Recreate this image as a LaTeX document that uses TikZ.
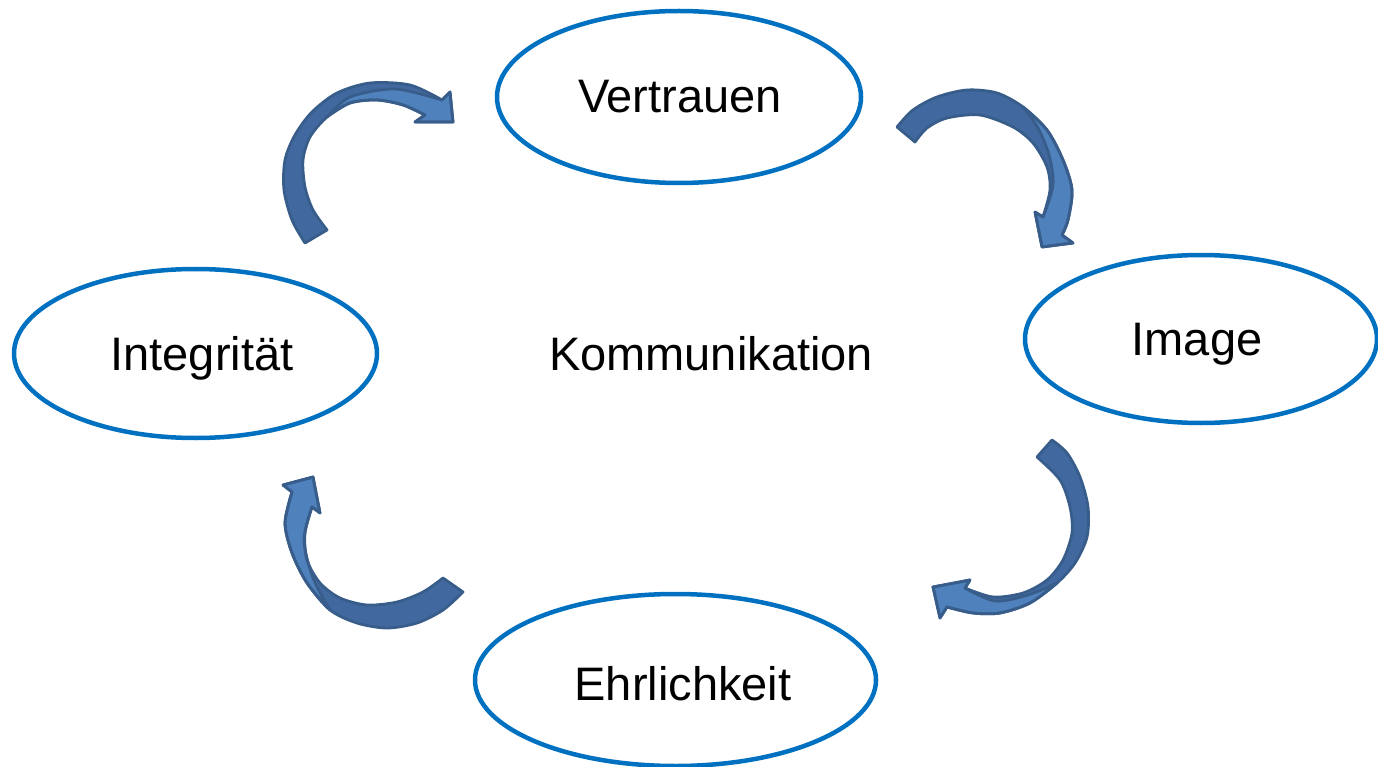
\documentclass[tikz,border=0pt]{standalone}
\usepackage{fontspec}
\setmainfont{Liberation Sans}
\usetikzlibrary{shapes.geometric}
\definecolor{ellblue}{HTML}{0070C0}
\definecolor{arrlight}{HTML}{4F81BD}
\definecolor{arrdark}{HTML}{41699F}
\definecolor{arredge}{HTML}{385D8A}
\tikzset{
  ell/.style={ellipse, draw=ellblue, line width=4.5pt, inner sep=0pt},
  lbl/.style={anchor=base, inner sep=0pt, font=\fontsize{47}{56}\selectfont},
  arrbody/.style={fill=arrdark, draw=none},
  arrface/.style={fill=arrlight, draw=arredge, line width=2.8pt, line join=round},
  arrline/.style={draw=arredge, line width=2.8pt, line join=round}
}
\begin{document}
\begin{tikzpicture}[x=1pt,y=-1pt]
\useasboundingbox (0,0) rectangle (1378,767);
% ellipses
\node[ell, minimum width=364pt, minimum height=172pt] (vE) at (679,97) {};
\node[ell, minimum width=352pt, minimum height=168pt] (iE) at (1201,339) {};
\node[ell, minimum width=401pt, minimum height=172pt] (eE) at (675.5,680) {};
\node[ell, minimum width=363pt, minimum height=169pt] (gE) at (195.5,353.5) {};
% labels
\node[lbl] (vT) at (680,113) {Vertrauen};
\node[lbl] (iT) at (1197,355) {Image};
\node[lbl] (eT) at (683,700) {Ehrlichkeit};
\node[lbl] (gT) at (202,370) {Integrität};
\node[lbl] (kT) at (711,370) {Kommunikation};
% arrow 1: Integritaet -> Vertrauen
\path[arrbody] (327,230) -- (305,243) -- plot[smooth] coordinates {(305,243) (292,220) (284,190) (285,160) (295,135) (312,112) (337,93) (370,83) (410,85) (442,100)} -- (450,92) -- (453,122) -- (415,122) -- (425,115) -- plot[smooth] coordinates {(425,115) (403,105) (377,100) (350,103) (327,117) (310,137) (303,160) (305,187) (313,210) (327,230)} -- cycle;
\path[arrface] (425,115) -- plot[smooth] coordinates {(425,115) (403,105) (377,100) (350,103) (327,117)} -- plot[smooth] coordinates {(327,117) (350,97) (395,89) (442,100)} -- (450,92) -- (453,122) -- (415,122) -- cycle;
\path[arrline] (327,230) -- (305,243) -- plot[smooth] coordinates {(305,243) (292,220) (284,190) (285,160) (295,135) (312,112) (337,93) (370,83) (410,85) (442,100)} -- (450,92) -- (453,122) -- (415,122) -- (425,115) -- plot[smooth] coordinates {(425,115) (403,105) (377,100) (350,103) (327,117) (310,137) (303,160) (305,187) (313,210) (327,230)} -- cycle;
% arrow 2: Vertrauen -> Image
\path[arrbody] (915,142) -- (897,127) -- plot[smooth] coordinates {(897,127) (913,110) (937,97) (967,90) (997,93) (1023,107) (1047,130) (1063,160) (1072,190) (1068,220) (1062,235)} -- (1073,243) -- (1042,247) -- (1035,212) -- (1043,217) -- plot[smooth] coordinates {(1043,217) (1050,190) (1047,167) (1033,143) (1013,127) (980,115) (947,118) (927,128) (915,142)} -- cycle;
\path[arrface] (1023,107) -- plot[smooth] coordinates {(1023,107) (1047,130) (1063,160) (1072,190) (1068,220) (1062,235)} -- (1073,243) -- (1042,247) -- (1035,212) -- (1043,217) -- plot[smooth] coordinates {(1043,217) (1053,185) (1049,155) (1038,128) (1023,107)} -- cycle;
\path[arrline] (915,142) -- (897,127) -- plot[smooth] coordinates {(897,127) (913,110) (937,97) (967,90) (997,93) (1023,107) (1047,130) (1063,160) (1072,190) (1068,220) (1062,235)} -- (1073,243) -- (1042,247) -- (1035,212) -- (1043,217) -- plot[smooth] coordinates {(1043,217) (1050,190) (1047,167) (1033,143) (1013,127) (980,115) (947,118) (927,128) (915,142)} -- cycle;
% arrow 3: Image -> Ehrlichkeit
\path[arrbody] (1037,457) -- (1052,440) -- plot[smooth] coordinates {(1052,440) (1067,453) (1080,477) (1088,507) (1087,537) (1075,563) (1057,583) (1030,603) (1000,613) (973,613) (947,607)} -- (940,618) -- (933,587) -- (970,580) -- (965,588) -- plot[smooth] coordinates {(965,588) (993,597) (1023,593) (1047,580) (1063,560) (1072,533) (1070,507) (1060,480) (1037,457)} -- cycle;
\path[arrface] (1057,583) -- plot[smooth] coordinates {(1057,583) (1030,603) (1000,613) (973,613) (947,607)} -- (940,618) -- (933,587) -- (970,580) -- (965,588) -- plot[smooth] coordinates {(965,588) (995,601) (1028,595) (1057,583)} -- cycle;
\path[arrline] (1037,457) -- (1052,440) -- plot[smooth] coordinates {(1052,440) (1067,453) (1080,477) (1088,507) (1087,537) (1075,563) (1057,583) (1030,603) (1000,613) (973,613) (947,607)} -- (940,618) -- (933,587) -- (970,580) -- (965,588) -- plot[smooth] coordinates {(965,588) (993,597) (1023,593) (1047,580) (1063,560) (1072,533) (1070,507) (1060,480) (1037,457)} -- cycle;
% arrow 4: Ehrlichkeit -> Integritaet
\path[arrbody] (443,578) -- (463,592) -- plot[smooth] coordinates {(463,592) (443,610) (417,623) (387,628) (357,623) (330,610) (307,583) (292,553) (285,523) (292,492)} -- (283,485) -- (313,477) -- (320,513) -- (312,507) -- plot[smooth] coordinates {(312,507) (305,533) (307,560) (320,583) (340,598) (367,605) (397,602) (423,592) (443,578)} -- cycle;
\path[arrface] (330,610) -- plot[smooth] coordinates {(330,610) (307,583) (292,553) (285,523) (292,492)} -- (283,485) -- (313,477) -- (320,513) -- (312,507) -- plot[smooth] coordinates {(312,507) (304,540) (313,578) (330,610)} -- cycle;
\path[arrline] (443,578) -- (463,592) -- plot[smooth] coordinates {(463,592) (443,610) (417,623) (387,628) (357,623) (330,610) (307,583) (292,553) (285,523) (292,492)} -- (283,485) -- (313,477) -- (320,513) -- (312,507) -- plot[smooth] coordinates {(312,507) (305,533) (307,560) (320,583) (340,598) (367,605) (397,602) (423,592) (443,578)} -- cycle;
\end{tikzpicture}
\end{document}
